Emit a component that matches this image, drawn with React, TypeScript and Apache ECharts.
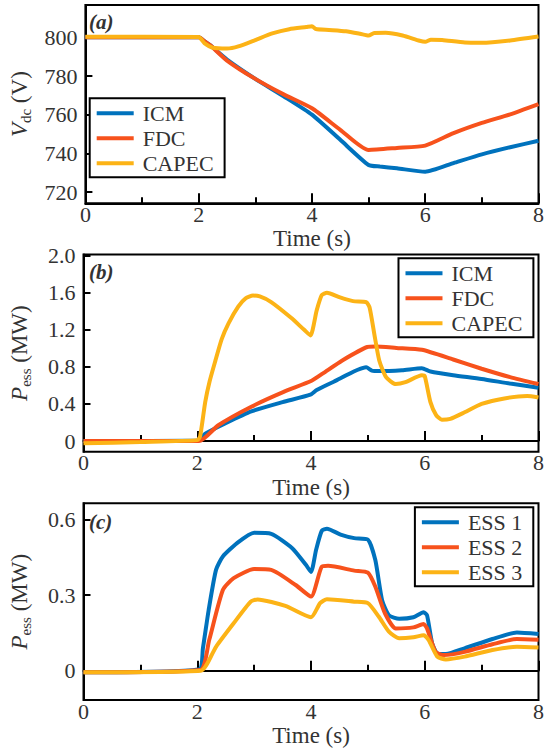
import React, { useEffect, useRef } from "react";
import * as echarts from "echarts";

// ---------- data (time s, value) ----------
const timeTicks = [0, 2, 4, 6, 8];

const vdcTicks = [720, 740, 760, 780, 800];
const vdcICM = [[0,800],[1,800],[2,800],[2.1,798],[2.2,796],[2.5,788.5],[3,778.5],[3.5,769.5],[4,760],[4.5,747],[5,734],[5.2,733.2],[5.5,732.3],[6,730.5],[6.5,735],[7,739.5],[7.5,743.2],[8,746.5]];
const vdcFDC = [[0,800],[2,800],[2.1,798],[2.2,796],[2.5,788],[3,778.5],[3.5,770.5],[4,763.3],[4.5,752.2],[5,741.8],[5.5,742.8],[6,744],[6.5,750.5],[7,755.8],[7.5,760.2],[8,765.5]];
const vdcCAPEC = [[0,800.3],[2,800.2],[2.1,797],[2.25,794.6],[2.5,794.2],[2.7,795.3],[3,798.6],[3.3,802],[3.6,804.2],[3.9,805.3],[4,805.7],[4.07,804.3],[4.3,803.8],[4.6,803.1],[4.85,801.8],[5,800.9],[5.1,802.2],[5.3,802.3],[5.6,800.9],[5.9,798.2],[6,797.7],[6.1,798.8],[6.3,798.6],[6.7,797.3],[7,797.2],[7.5,798.4],[8,800.4]];

const pTicks = [0, 0.4, 0.8, 1.2, 1.6, 2.0];
const pICM = [[0,0],[2,0.005],[2.05,0.03],[2.14,0.08],[2.49,0.19],[2.95,0.32],[3.5,0.42],[3.99,0.5],[4.1,0.55],[4.4,0.64],[4.97,0.795],[5.07,0.76],[5.2,0.755],[5.6,0.765],[5.95,0.785],[6.1,0.75],[6.5,0.71],[7,0.67],[7.5,0.62],[8,0.575]];
const pFDC = [[0,0],[2.03,0],[2.37,0.17],[2.95,0.37],[3.52,0.53],[4.01,0.65],[4.21,0.73],[4.55,0.87],[4.99,1.015],[5.13,1.02],[5.5,1.005],[5.95,0.985],[6.5,0.88],[7,0.78],[7.5,0.69],[8,0.615]];
const pCAPEC = [[0,-0.025],[1,-0.01],[2,0.01],[2.05,0.05],[2.14,0.42],[2.22,0.65],[2.32,0.87],[2.43,1.1],[2.55,1.27],[2.72,1.45],[2.85,1.54],[2.98,1.57],[3.1,1.56],[3.3,1.5],[3.65,1.33],[3.88,1.2],[3.99,1.14],[4.1,1.41],[4.19,1.575],[4.28,1.6],[4.51,1.55],[4.74,1.51],[4.97,1.5],[5.03,1.44],[5.12,1.13],[5.2,0.87],[5.32,0.69],[5.49,0.615],[5.66,0.635],[5.95,0.71],[6.0,0.7],[6.1,0.42],[6.2,0.28],[6.3,0.23],[6.45,0.24],[6.7,0.31],[7,0.4],[7.4,0.46],[7.8,0.485],[8,0.47]];

const essTicks = [0, 0.3, 0.6];
const ess1 = [[0,-0.006],[2.03,0.005],[2.1,0.09],[2.2,0.24],[2.33,0.4],[2.45,0.453],[2.7,0.506],[3.0,0.547],[3.3,0.543],[3.67,0.486],[3.91,0.42],[4.0,0.392],[4.09,0.48],[4.19,0.555],[4.28,0.563],[4.52,0.54],[4.76,0.526],[5.0,0.52],[5.13,0.44],[5.25,0.28],[5.37,0.22],[5.55,0.206],[5.8,0.212],[5.98,0.232],[6.04,0.22],[6.13,0.109],[6.22,0.069],[6.37,0.066],[6.7,0.089],[7.19,0.126],[7.62,0.152],[8,0.146]];
const ess2 = [[0,-0.006],[2.05,0.003],[2.21,0.122],[2.45,0.32],[2.64,0.367],[3.0,0.403],[3.3,0.4],[3.73,0.34],[4.0,0.294],[4.19,0.413],[4.3,0.416],[4.76,0.397],[5.0,0.389],[5.13,0.334],[5.3,0.228],[5.49,0.168],[5.8,0.172],[5.98,0.185],[6.04,0.168],[6.19,0.075],[6.34,0.062],[6.7,0.075],[7.19,0.105],[7.62,0.126],[8,0.123]];
const ess3 = [[0,-0.006],[2.06,0],[2.33,0.095],[2.64,0.188],[2.94,0.274],[3.06,0.283],[3.55,0.257],[4.0,0.212],[4.16,0.268],[4.28,0.284],[4.76,0.274],[5.0,0.268],[5.19,0.215],[5.37,0.155],[5.55,0.129],[5.8,0.133],[5.98,0.141],[6.07,0.121],[6.22,0.056],[6.37,0.045],[6.7,0.056],[7.19,0.082],[7.62,0.095],[8,0.092]];

const namesA = ["ICM", "FDC", "CAPEC"];
const namesC = ["ESS 1", "ESS 2", "ESS 3"];
const colors = ["#0072BD", "#F7521C", "#FCB316"];

const FONT = "'Liberation Serif', 'Times New Roman', serif";
const TXT = "#333333";

export default function App() {
  const ref = useRef<HTMLDivElement>(null);
  useEffect(() => {
    if (!ref.current) return;
    const chart = echarts.init(ref.current, null, { renderer: "svg" });

    const grids = [
      { left: 76, right: 11.5, top: 5, height: 198.3 },
      { left: 76, right: 11.5, top: 254.5, height: 197.2 },
      { left: 76, right: 11.5, top: 503.3, height: 196.7 },
    ].map((g) => ({ ...g, show: true, borderColor: "#000", borderWidth: 2, backgroundColor: "transparent" }));

    const xAxes = [0, 1, 2].map((i) => ({
      type: "value",
      gridIndex: i,
      min: 0,
      max: 8,
      interval: 2,
      name: "Time (s)",
      nameLocation: "middle",
      nameGap: 24,
      nameTextStyle: { fontFamily: FONT, fontSize: 23, color: TXT },
      axisLine: { show: true, lineStyle: { color: "#000", width: 2 } },
      axisTick: { show: true, inside: true, length: 10, lineStyle: { color: "#000", width: 2 } },
      minorTick: { show: true, splitNumber: 2, length: 6, lineStyle: { color: "#000", width: 2 } },
      axisLabel: { margin: 0, fontFamily: FONT, fontSize: 22, color: TXT, customValues: timeTicks },
      splitLine: { show: false },
    }));

    const yName = (main: string, sub: string, unit: string) => `{i|${main}}{s|${sub}}{n| (${unit})}`;
    const yRich = {
      i: { fontFamily: FONT, fontStyle: "italic", fontSize: 23, lineHeight: 28, color: TXT },
      s: { fontFamily: FONT, fontSize: 15, lineHeight: 14, verticalAlign: "bottom", color: TXT },
      n: { fontFamily: FONT, fontSize: 23, lineHeight: 28, color: TXT },
    };
    const yBase = (i: number, min: number, max: number, ticks: number[], fmt: (v: number) => string, name: string) => ({
      type: "value",
      gridIndex: i,
      min,
      max,
      name,
      nameLocation: "middle",
      nameRotate: 90,
      nameGap: 50,
      nameTextStyle: { fontFamily: FONT, fontSize: 23, color: TXT, rich: yRich },
      axisLine: { show: true, lineStyle: { color: "#000", width: 2 } },
      axisTick: { show: true, inside: true, length: 7, customValues: ticks, lineStyle: { color: "#000", width: 2 } },
      axisLabel: { margin: 8, fontFamily: FONT, fontSize: 22, color: TXT, customValues: ticks, formatter: fmt },
      splitLine: { show: false },
    });

    const yAxes = [
      yBase(0, 714.2, 816.7, vdcTicks, (v) => String(Math.round(v)), yName("V", "dc", "V")),
      yBase(1, -0.115, 2.013, pTicks, (v) => (Math.abs(v) < 1e-9 ? "0" : v.toFixed(1)), yName("P", "ess", "MW")),
      yBase(2, -0.116, 0.664, essTicks, (v) => (Math.abs(v) < 1e-9 ? "0" : v.toFixed(1)), yName("P", "ess", "MW")),
    ];

    const mk = (name: string, data: number[][], idx: number, color: string) => ({
      type: "line",
      name,
      data,
      xAxisIndex: idx,
      yAxisIndex: idx,
      showSymbol: false,
      symbol: "none",
      smooth: 0.2,
      lineStyle: { color, width: 4 },
      itemStyle: { color },
      clip: true,
    });

    const series = [
      mk(namesA[0], vdcICM, 0, colors[0]),
      mk(namesA[1], vdcFDC, 0, colors[1]),
      mk(namesA[2], vdcCAPEC, 0, colors[2]),
      mk(namesA[0], pICM, 1, colors[0]),
      mk(namesA[1], pFDC, 1, colors[1]),
      mk(namesA[2], pCAPEC, 1, colors[2]),
      mk(namesC[0], ess1, 2, colors[0]),
      mk(namesC[1], ess2, 2, colors[1]),
      mk(namesC[2], ess3, 2, colors[2]),
    ];

    const legendBase = (names: string[], pos: any) => ({
      ...pos,
      orient: "vertical",
      data: names.map((n, k) => ({ name: n, icon: "rect", itemStyle: { color: colors[k] } })),
      itemWidth: 37,
      itemHeight: 4,
      itemGap: 3,
      padding: [4, 11, 3, 7],
      borderColor: "#000",
      borderWidth: 2,
      backgroundColor: "#fff",
      selectedMode: false,
      textStyle: { fontFamily: FONT, fontSize: 22, lineHeight: 22, color: TXT, padding: [0, 0, 0, 4] },
    });

    const panelTitle = (text: string, top: number) => ({
      text,
      left: 89,
      top,
      padding: 0,
      textStyle: { fontFamily: FONT, fontSize: 21, fontStyle: "italic", fontWeight: "bold", color: TXT },
    });

    chart.setOption({
      animation: false,
      backgroundColor: "#fff",
      title: [panelTitle("(a)", 11.5), panelTitle("(b)", 261.5), panelTitle("(c)", 511.5)],
      grid: grids,
      xAxis: xAxes,
      yAxis: yAxes,
      legend: [
        legendBase(namesA, { left: 89.7, top: 98.3 }),
        legendBase(namesA, { right: 16.6, top: 258.3 }),
        legendBase(namesC, { right: 16.7, top: 507.3 }),
      ],
      series,
    });
    return () => chart.dispose();
  }, []);
  return <div ref={ref} style={{ position: "fixed", left: 0, top: 0, width: 550, height: 753 }} />;
}
